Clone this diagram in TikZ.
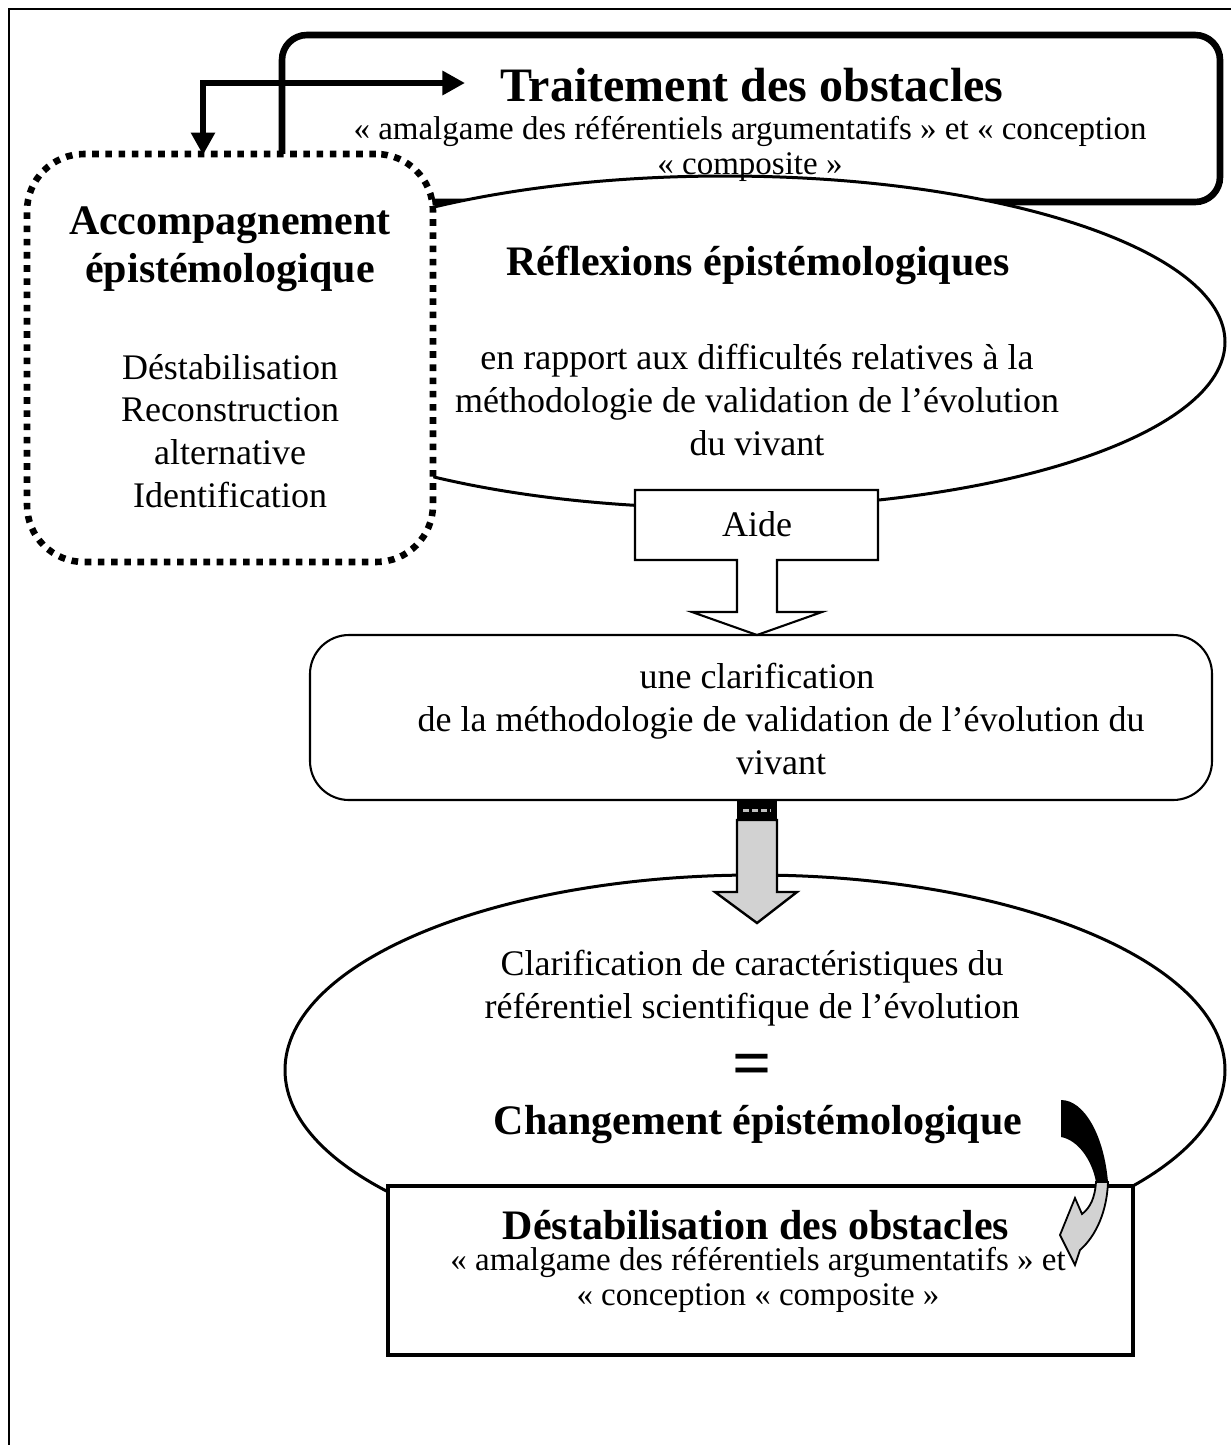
\documentclass[tikz,border=0pt]{standalone}
\usepackage{fontspec}
\setmainfont{Liberation Serif}
\usetikzlibrary{arrows.meta,shapes.geometric}

\newcommand{\pxu}{0.3333pt}

\tikzset{
  plain/.style={align=center, inner sep=0pt, font=\fontsize{12}{14.3}\selectfont},
  smalltxt/.style={align=center, inner sep=0pt, font=\fontsize{11}{11.5}\selectfont},
  bigtitle/.style={align=center, inner sep=0pt, font=\fontsize{16}{19}\selectfont\bfseries},
  midtitle/.style={align=center, inner sep=0pt, font=\fontsize{14}{16}\selectfont\bfseries},
  frame/.style={draw, inner sep=0pt},
  dotbox/.style={draw, fill=white, inner sep=0pt, line width=2.2pt,
    dash pattern=on 2.2pt off 2.2pt, rounded corners=19pt},
  bigarrow/.style={line width=2pt},
  grayfill/.style={draw, line width=0.8pt, fill=gray!35}
}

\begin{document}
\begin{tikzpicture}[x=0.3333pt, y=-0.3333pt]
  \useasboundingbox (0,0) rectangle (1231,1445);

  % page frame
  \draw[line width=0.7pt] (9,1445) -- (9,9) -- (1231,9);

  % shapes
  \node[frame, line width=2.2pt, rounded corners=8.3pt,
        minimum width=938*\pxu, minimum height=167*\pxu] (trait) at (751,118.5) {};
  \node[frame, ellipse, fill=white, line width=1pt,
        minimum width=1000*\pxu, minimum height=332*\pxu] (reflex) at (725,342) {};
  \node[dotbox, minimum width=406*\pxu, minimum height=408*\pxu] (accomp) at (230,358) {};

  \coordinate (downtip) at (203,155);
  \coordinate (righttip) at (465,83);
  \draw[bigarrow, {Triangle[length=7.5pt,width=7.7pt]}-{Triangle[length=7.5pt,width=7.7pt]}]
    (downtip) |- (righttip);

  % callout "Aide"
  \draw[line width=0.7pt, fill=white] (635,490) -- (878,490) -- (878,560) -- (777,560)
    -- (777,612) -- (822,612) -- (757,635) -- (692,612) -- (737,612) -- (737,560)
    -- (635,560) -- cycle;

  \node[frame, line width=0.7pt, rounded corners=13pt,
        minimum width=902*\pxu, minimum height=165*\pxu] (clarif) at (761,717.5) {};

  \node[frame, ellipse, fill=white, line width=1pt,
        minimum width=940*\pxu, minimum height=390*\pxu] (change) at (755,1070) {};

  % gray arrow
  \fill[black] (737,800) rectangle (777,820);
  \draw[gray!50, line width=1pt, dash pattern=on 2pt off 1pt] (743,810) -- (771,810);
  \draw[grayfill] (737,820) -- (737,892) -- (715,892) -- (757,923) -- (797,892)
    -- (777,892) -- (777,820) -- cycle;

  \node[frame, fill=white, line width=1.6pt,
        minimum width=745*\pxu, minimum height=169*\pxu] (destab) at (760.5,1270.5) {};

  % curved arrow
  \fill[black] (1061,1100) .. controls (1084,1100) and (1104,1135) .. (1108,1182)
    -- (1096,1182) .. controls (1092,1160) and (1078,1140) .. (1061,1137) -- cycle;
  \draw[grayfill, line width=0.6pt] (1096,1182) .. controls (1095,1198) and (1090,1208) .. (1082,1214)
    -- (1075,1198) -- (1060,1235) -- (1075,1265) -- (1080,1250)
    .. controls (1097,1235) and (1107,1210) .. (1108,1182) -- cycle;

  % texts
  \node[bigtitle] (traitTitle) at (752,85) {Traitement des obstacles};
  \node[smalltxt] (traitText) at (750,149)
    {«~amalgame des référentiels argumentatifs~» et «~conception\\«~composite~»};

  \node[midtitle] (reflexTitle) at (758,265) {Réflexions épistémologiques};
  \node[plain] (reflexText) at (757,400)
    {en rapport aux difficultés relatives à la\\méthodologie de validation de l’évolution\\du vivant};

  \node[midtitle] (accompTitle) at (230,249) {Accompagnement\\épistémologique};
  \node[plain] (accompText) at (230,431)
    {Déstabilisation\\Reconstruction\\alternative\\Identification};

  \node[plain] (aide) at (757,524) {Aide};

  \node[plain] (clarifText) at (781,719)
    {une clarification\hspace*{16pt}\\de la méthodologie de validation de l’évolution du\\vivant};

  \node[plain] (changeText) at (752,988)
    {Clarification de caractéristiques du\\référentiel scientifique de l’évolution};
  \node[inner sep=0pt, font=\fontsize{23}{23}\selectfont\bfseries] (equal) at (752,1070) {=};
  \node[midtitle] (changeTitle) at (758,1125) {Changement épistémologique};

  \node[midtitle] (destabTitle) at (756,1225) {Déstabilisation des obstacles};
  \node[smalltxt] (destabText) at (758,1280)
    {«~amalgame des référentiels argumentatifs~» et\\«~conception «~composite~»};

\end{tikzpicture}
\end{document}
